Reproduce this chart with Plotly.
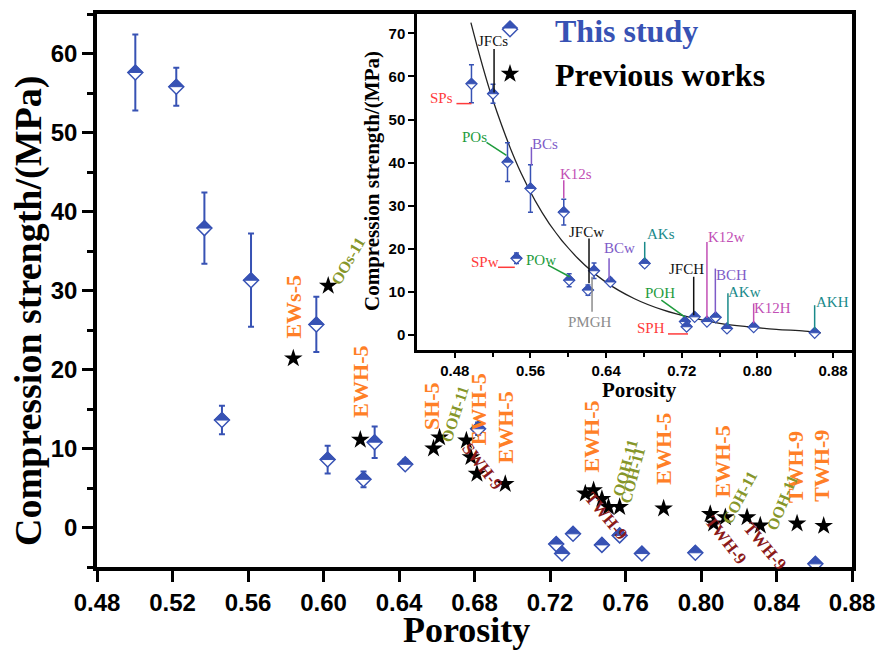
import plotly.graph_objects as go

BLUE = "#3752B4"
ORANGE = "#FF7F27"
OLIVE = "#86962A"
DARKRED = "#8B1A1A"
SERIF = "Liberation Serif"
SANS = "Liberation Sans"

# ---------------- main panel data ----------------
study_x = [0.5003, 0.5220, 0.5369, 0.5616, 0.5962, 0.5462, 0.6022, 0.6212, 0.6271, 0.6433,
           0.6819, 0.7233, 0.7264, 0.7322, 0.7475, 0.7569, 0.7687, 0.7970, 0.8606]
study_y = [57.6, 55.8, 37.9, 31.3, 25.7, 13.6, 8.6, 6.1, 10.8, 8.0,
           12.5, -2.1, -3.3, -0.8, -2.2, -1.0, -3.3, -3.2, -4.6]
study_err = [4.8, 2.4, 4.5, 5.9, 3.5, 1.8, 1.75, 1.0, 2.0, 0.6,
             0.8, 0.5, 0.5, 0.5, 0.5, 0.5, 0.5, 0.5, 0.5]

prev_x = [0.584, 0.6025, 0.6195, 0.6583, 0.6615, 0.6757, 0.6781, 0.6813, 0.6963, 0.7387, 0.7431,
          0.7475, 0.7510, 0.7569, 0.7802, 0.8049, 0.8067, 0.8129, 0.8244, 0.8314, 0.8509, 0.8650]
prev_y = [21.4, 30.6, 11.1, 10.0, 11.4, 11.0, 8.9, 6.8, 5.5, 4.3, 4.7,
          3.6, 2.6, 2.6, 2.4, 1.7, 0.5, 1.3, 1.3, 0.25, 0.5, 0.2]

orange_text = ["EWs-5", "EWH-5", "SH-5", "EWH-5", "EWH-5", "EWH-5", "EWH-5", "EWH-5", "TWH-9", "TWH-9"]
orange_x = [0.584, 0.6195, 0.6576, 0.682, 0.6963, 0.7422, 0.780, 0.8113, 0.850, 0.8641]
orange_y = [28.0, 18.5, 15.4, 15.0, 12.7, 11.5, 10.0, 8.4, 7.7, 7.8]

olive_text = ["OOs-11", "OOH-11", "OOH-11", "COH-11", "COH-11", "OOH-11"]
olive_x = [0.6131, 0.6698, 0.7599, 0.7637, 0.8204, 0.843]
olive_y = [33.8, 14.4, 7.6, 6.6, 3.8, 3.2]
olive_angle = [-60, -72, -75, -75, -62, -68]

red_text = ["SWH-9", "TWH-9", "TWH-9", "TWH-9"]
red_x = [0.6841, 0.7499, 0.8133, 0.8340]
red_y = [7.7, 1.4, -1.6, -2.4]
red_angle = [52, 50, 52, 50]

# ---------------- inset data ----------------
ins_x = [0.4976, 0.5204, 0.5357, 0.5600, 0.5952, 0.5452, 0.6009, 0.6208, 0.6272, 0.6445,
         0.6808, 0.7233, 0.7251, 0.7336, 0.7466, 0.7558, 0.7678, 0.7960, 0.8605]
ins_y = [58.3, 56.0, 40.1, 34.0, 28.5, 17.8, 12.7, 10.4, 14.9, 12.3,
         16.6, 3.1, 1.9, 4.2, 3.1, 4.1, 1.5, 1.8, 0.5]
ins_err = [4.4, 2.2, 4.5, 5.5, 3.0, 1.2, 1.5, 1.2, 1.8, 0.8,
           0.8, 0.6, 0.6, 0.6, 0.5, 0.5, 0.5, 0.5, 0.5]

fit_x = [0.497, 0.52, 0.55, 0.58, 0.61, 0.64, 0.67, 0.70, 0.73, 0.76, 0.79, 0.82, 0.85, 0.867]
fit_y = [72.5, 54.7, 37.6, 25.8, 17.8, 12.2, 8.4, 5.8, 4.0, 2.7, 1.9, 1.3, 0.9, 0.5]

lab_text = ["SPs", "JFCs", "POs", "BCs", "K12s", "SPw", "POw", "PMGH", "JFCw", "BCw",
            "AKs", "POH", "SPH", "JFCH", "K12w", "BCH", "AKw", "K12H", "AKH"]
lab_color = ["#FF3B3B", "#111111", "#1E9B3C", "#7E5BC8", "#C24FB5", "#FF3B3B", "#1E9B3C",
             "#8C8C8C", "#111111", "#7E5BC8", "#1A8A8A", "#1E9B3C", "#FF3B3B", "#111111",
             "#C24FB5", "#7E5BC8", "#1A8A8A", "#C24FB5", "#1A8A8A"]
lab_x = [0.4659, 0.5201, 0.5011, 0.5751, 0.6086, 0.5117, 0.5716, 0.6227, 0.6192, 0.6544,
         0.6984, 0.6967, 0.6879, 0.7249, 0.7671, 0.7724, 0.7865, 0.8164, 0.8798]
lab_y = [54.9, 68.3, 45.9, 44.4, 37.4, 17.0, 17.4, 3.1, 23.9, 20.1,
         23.5, 9.65, 1.55, 15.4, 22.8, 13.9, 10.0, 6.2, 7.7]
lead_x0 = [0.4817, 0.5215, 0.5135, 0.5610, 0.5952, 0.5257, 0.5786, 0.6251, 0.6219, 0.6431,
           0.6808, 0.6984, 0.7054, 0.7326, 0.7466, 0.7555, 0.7688, 0.7960, 0.8605]
lead_y0 = [53.7, 66.4, 44.7, 43.6, 35.9, 15.7, 16.2, 5.4, 22.4, 17.8,
           21.6, 8.1, 0.23, 13.5, 21.6, 15.4, 9.65, 7.3, 6.9]
lead_x1 = [0.4976, 0.5215, 0.5346, 0.5610, 0.5952, 0.5434, 0.6015, 0.6251, 0.6219, 0.6431,
           0.6808, 0.7231, 0.7266, 0.7326, 0.7466, 0.7555, 0.7688, 0.7960, 0.8605]
lead_y1 = [53.7, 56.3, 41.7, 39.4, 31.7, 15.7, 13.5, 13.5, 12.0, 12.7,
           17.4, 4.2, 0.23, 4.6, 3.9, 5.0, 2.3, 2.7, 1.2]

fig = go.Figure()

# legend-only key for "This study" (transparent fill so the half-fill shows)
fig.add_trace(go.Scatter(
    x=[None], y=[None], mode="markers", name='<span style="color:%s">This study</span>' % BLUE,
    marker=dict(symbol="diamond", size=11.5, color="rgba(0,0,0,0)", line=dict(color=BLUE, width=1.5)),
    xaxis="x", yaxis="y", showlegend=True))

# main panel traces
fig.add_trace(go.Scatter(
    x=study_x, y=study_y, mode="markers", name="This study",
    error_y=dict(type="data", array=study_err, color=BLUE, thickness=2, width=3),
    marker=dict(symbol="diamond", size=11.5, color="white", line=dict(color=BLUE, width=1.5)),
    xaxis="x", yaxis="y", showlegend=False))
fig.add_trace(go.Scatter(
    x=prev_x, y=prev_y, mode="markers", name="Previous works",
    marker=dict(symbol="star", size=14, color="black", line=dict(width=0)),
    xaxis="x", yaxis="y", showlegend=True))

# inset traces
fig.add_trace(go.Scatter(x=fit_x, y=fit_y, mode="lines", line=dict(color="#222222", width=1.3, shape="spline"),
                         xaxis="x2", yaxis="y2", showlegend=False))
fig.add_trace(go.Scatter(
    x=ins_x, y=ins_y, mode="markers",
    error_y=dict(type="data", array=ins_err, color=BLUE, thickness=1.5, width=2.5),
    marker=dict(symbol="diamond", size=8.5, color="white", line=dict(color=BLUE, width=1.2)),
    xaxis="x2", yaxis="y2", showlegend=False))


def px(xp):
    return (xp - 97) / 755.0


def py(yp):
    return (567 - yp) / 553.0


def half(h, **kw):
    d = dict(type="path", xsizemode="pixel", ysizemode="pixel", path=f"M{-h},0 L{h},0 L0,{h} Z",
             fillcolor=BLUE, line=dict(color=BLUE, width=1), layer="above")
    d.update(kw)
    return d


shapes = []
for xa, ya in zip(study_x, study_y):
    shapes.append(half(7.5, xref="x", yref="y", xanchor=xa, yanchor=ya))
for xa, ya in zip(ins_x, ins_y):
    shapes.append(half(5.5, xref="x2", yref="y2", xanchor=xa, yanchor=ya))
for c, a, b, d, e in zip(lab_color, lead_x0, lead_y0, lead_x1, lead_y1):
    shapes.append(dict(type="line", xref="x2", yref="y2", x0=a, y0=b, x1=d, y1=e,
                       line=dict(color=c, width=1.5), layer="above"))
# legend key half fill
shapes.append(half(7.5, xref="paper", yref="paper", xanchor=px(510), yanchor=py(28)))

ann = []
C = dict(xanchor="center", yanchor="middle", showarrow=False)
for t, x, y in zip(orange_text, orange_x, orange_y):
    ann.append(dict(x=x, y=y, xref="x", yref="y", text=t, textangle=-90,
                    font=dict(family=SERIF, size=22, color=ORANGE, weight="bold"), **C))
for t, x, y, a in zip(olive_text, olive_x, olive_y, olive_angle):
    ann.append(dict(x=x, y=y, xref="x", yref="y", text=t, textangle=a,
                    font=dict(family=SERIF, size=16, color=OLIVE, weight="bold"), **C))
for t, x, y, a in zip(red_text, red_x, red_y, red_angle):
    ann.append(dict(x=x, y=y, xref="x", yref="y", text=t, textangle=a,
                    font=dict(family=SERIF, size=17, color=DARKRED, weight="bold"), **C))
for t, x, y, c in zip(lab_text, lab_x, lab_y, lab_color):
    ann.append(dict(x=x, y=y, xref="x2", yref="y2", text=t,
                    font=dict(family=SERIF, size=15, color=c), **C))

ann.append(dict(x=px(28), y=py(311), xref="paper", yref="paper", text="Compression strength/(MPa)",
                textangle=-90, font=dict(family=SERIF, size=38, color="black", weight="bold"), **C))
ann.append(dict(x=px(466), y=py(630), xref="paper", yref="paper", text="Porosity",
                font=dict(family=SERIF, size=36, color="black", weight="bold"), **C))
ann.append(dict(x=px(372), y=py(181), xref="paper", yref="paper", text="Compression strength/(MPa)",
                textangle=-90, font=dict(family=SERIF, size=21, color="black", weight="bold"), **C))
ann.append(dict(x=px(639), y=py(390), xref="paper", yref="paper", text="Porosity",
                font=dict(family=SERIF, size=21, color="black", weight="bold"), **C))

xticks_main = [0.48, 0.52, 0.56, 0.60, 0.64, 0.68, 0.72, 0.76, 0.80, 0.84, 0.88]
yticks_main = [0, 10, 20, 30, 40, 50, 60]
xticks_ins = [0.48, 0.56, 0.64, 0.72, 0.80, 0.88]
xminor_ins = [0.52, 0.60, 0.68, 0.76, 0.84]
yticks_ins = [0, 10, 20, 30, 40, 50, 60, 70]

fig.update_layout(
    width=878, height=651,
    margin=dict(l=97, r=26, t=14, b=84, autoexpand=False),
    paper_bgcolor="white", plot_bgcolor="white",
    shapes=shapes, annotations=ann,
    xaxis=dict(domain=[0, 1], range=[0.48, 0.88], tickvals=xticks_main, ticktext=["%.2f" % v for v in xticks_main],
               showline=True, linewidth=3.5, linecolor="black", mirror=True, ticks="outside", ticklen=11,
               tickwidth=3, tickcolor="black", showgrid=False, zeroline=False, automargin=False,
               tickfont=dict(family=SANS, size=24, color="black", weight="bold")),
    yaxis=dict(domain=[0, 1], range=[-5, 65], tickvals=yticks_main, showline=True, linewidth=3.5,
               linecolor="black", mirror=True, ticks="outside", ticklen=11, tickwidth=3, tickcolor="black",
               minor=dict(dtick=5, tick0=0, ticks="outside", ticklen=6, tickwidth=2.5, tickcolor="black", showgrid=False),
               showgrid=False, zeroline=False, automargin=False,
               tickfont=dict(family=SANS, size=24, color="black", weight="bold")),
    xaxis2=dict(domain=[(417 - 97) / 755.0, 1], anchor="y2", range=[0.44, 0.90], tickvals=xticks_ins,
                ticktext=["%.2f" % v for v in xticks_ins], showline=True, linewidth=2.5, linecolor="black",
                mirror=True, ticks="outside", ticklen=5, tickwidth=2, tickcolor="black",
                minor=dict(tickvals=xminor_ins, ticks="outside", ticklen=4, tickwidth=2, tickcolor="black", showgrid=False),
                showgrid=False, zeroline=False, automargin=False,
                tickfont=dict(family=SANS, size=15, color="black", weight="bold")),
    yaxis2=dict(domain=[(567 - 350) / 553.0, 1], anchor="x2", range=[-3.5, 74.5], tickvals=yticks_ins,
                showline=True, linewidth=2.5, linecolor="black", mirror=True, ticks="outside", ticklen=6,
                tickwidth=2, tickcolor="black", showgrid=False, zeroline=False, automargin=False,
                tickfont=dict(family=SANS, size=15, color="black", weight="bold")),
    legend=dict(x=px(465), y=py(2), xanchor="left", yanchor="top", bgcolor="rgba(0,0,0,0)",
                font=dict(family=SERIF, size=32, color="black", weight="bold"), itemwidth=80,
                tracegroupgap=0),
)

fig.write_html("out.html", config={"displayModeBar": False},
               post_script="document.body.style.margin='0';document.body.style.padding='0';")
